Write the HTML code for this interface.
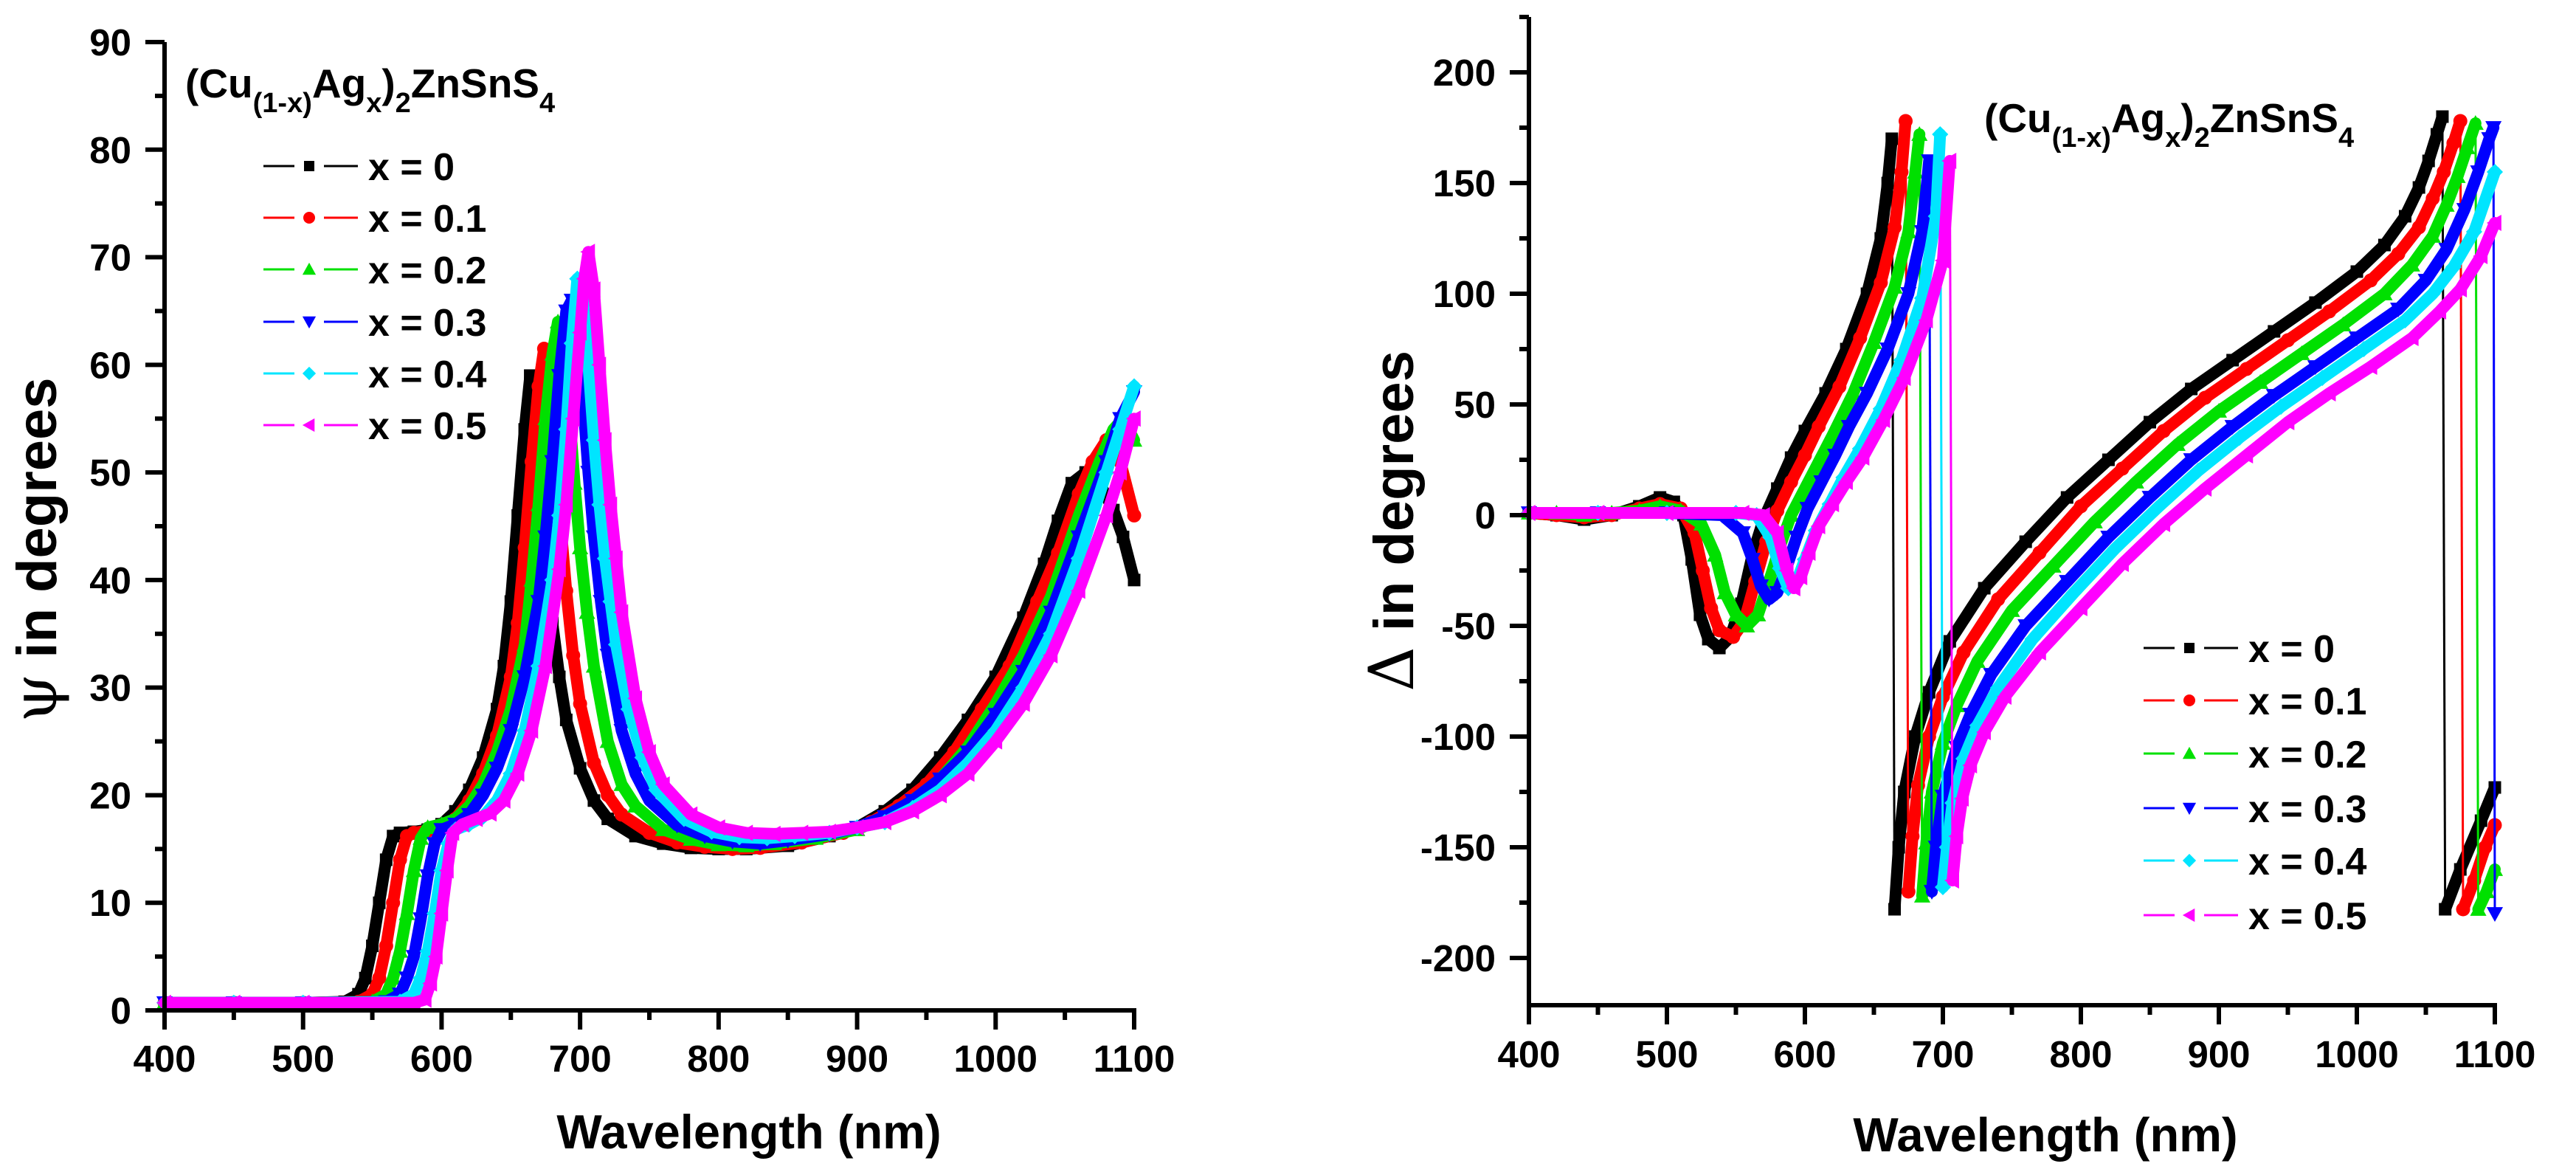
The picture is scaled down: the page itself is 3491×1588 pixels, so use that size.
<!DOCTYPE html>
<html><head><meta charset="utf-8"><style>
html,body{margin:0;padding:0;background:#fff;}
svg{display:block;font-family:"Liberation Sans",Arial,sans-serif;font-weight:bold;}
</style></head><body>
<svg id="chart" width="3491" height="1588" viewBox="0 0 3491 1588" xmlns="http://www.w3.org/2000/svg">
<g id="left"></g>
<g id="right"></g>
</svg>
<script>
// ---------- shared ----------
const seriesLabels = ["x = 0","x = 0.1","x = 0.2","x = 0.3","x = 0.4","x = 0.5"];
const seriesColors = ["#000000","#ff0000","#00e000","#0000ff","#00e5ff","#ff00ff"];
const seriesMarkers = ["square","circle","triUp","triDown","diamond","triLeft"];
const xTicks = [400,500,600,700,800,900,1000,1100];

// ---------- psi data ----------
const psiWl0 = [400,450,500,530,540,545,550,555,560,565,570,580,590,600,610,620,630,640,645,650,655,660,664,668,672,676,680,685,690,700,710,720,740,760,780,800,820,850,880,900,920,940,960,980,1000,1020,1035,1045,1055,1065,1075,1085,1092,1100];
const psiVal0 = [0.7,0.7,0.7,0.8,1.5,3,6,10,14,16.2,16.5,16.6,16.8,17.3,18.5,20.5,23.5,28,32,38,46,54,59,57,50,42,36,31,27,22.5,19.5,17.8,16.2,15.5,15.1,15,15,15.3,16.2,17,18.5,20.5,23.5,27,31,36.5,41.5,45.5,49,50,49,46.5,44,40];
const psiWl1 = [400,450,500,540,550,555,560,565,570,575,580,590,600,610,620,630,640,650,655,660,665,670,674,678,682,686,690,695,700,710,720,730,750,770,790,810,830,860,890,910,930,950,970,990,1010,1030,1045,1060,1070,1080,1090,1100];
const psiVal1 = [0.7,0.7,0.7,0.8,1.5,3,6,10,14,16.2,16.5,16.7,17,17.8,19.5,22,25.5,31,36,43,51,58,61.5,59,52,45,39,33,28.5,23,20,18.2,16.5,15.6,15.2,15,15.1,15.6,16.5,17.5,19,21,24,28,32,38,42.5,48,51,53,51,46];
const psiWl2 = [400,450,500,550,560,565,570,575,580,585,590,600,610,620,630,640,650,660,665,670,675,680,684,688,692,696,700,705,710,720,730,740,760,780,800,820,840,870,900,920,940,960,980,1000,1020,1040,1060,1075,1085,1092,1100];
const psiVal2 = [0.7,0.7,0.7,0.8,1.5,3,5.5,9,13,16,17,17.3,17.8,19,21,24,28,34,40,47,55,61,64,62,56,49,43,37,32,25,21,19,16.8,15.9,15.4,15.3,15.5,16,16.8,18,19.5,21.5,24.5,28.5,33,38.5,46,51,54,55,53];
const psiWl3 = [400,450,500,560,570,575,580,585,590,595,600,610,620,630,640,650,660,670,675,680,685,690,694,698,702,706,710,715,720,730,740,750,770,790,810,830,850,880,900,920,940,960,980,1000,1020,1040,1060,1080,1090,1100];
const psiVal3 = [0.7,0.7,0.7,0.8,1.5,3,5,8.5,12.5,15.5,16.8,17.3,18.2,20,22.5,26,31,38,44,51,59,65,66,63,57,50,44,38,33,26,22,19.5,17.2,16.2,15.7,15.5,15.8,16.4,17,18,19.5,21.5,24,27.5,31.5,37,44,51,55,57.5];
const psiWl4 = [400,450,500,570,580,585,590,595,600,605,610,620,630,640,650,660,670,680,685,690,694,698,702,706,710,714,718,722,726,735,745,755,775,795,815,835,855,880,900,920,940,960,980,1000,1020,1040,1060,1080,1090,1100];
const psiVal4 = [0.7,0.7,0.7,0.8,1.5,3,5.5,9,13,15.5,16.8,17.3,18,19.5,22,26,32,40,46,54,62,68,66,60,53,47,42,38,34,28,23.5,20.5,17.8,16.6,16.1,16,16.2,16.5,17,17.5,18.8,20.5,23,26,30,35,42,50,54,58];
const psiWl5 = [400,450,500,580,588,592,596,600,604,608,615,625,635,645,655,665,675,685,690,695,700,703,706,710,714,718,722,726,730,740,750,760,780,800,820,840,860,880,900,920,940,960,980,1000,1020,1040,1060,1080,1090,1100];
const psiVal5 = [0.7,0.7,0.7,0.7,1,2.5,5,9,13,16.5,17.3,17.8,18.3,19.5,22,26,32,41,47,55,63,68,70.5,67,60,53,47,42,37,29,24,21,18.2,17,16.5,16.4,16.5,16.6,17,17.5,18.5,20,22,25,28.5,33,39,46,50,55];
const psiTicks = [0,10,20,30,40,50,60,70,80,90];

// ---------- delta data ----------
const dWl0 = [400,420,440,460,480,495,505,512,518,524,530,538,546,554,562,570,580,590,600,615,630,645,655,660,663,665,668,672,680,690,705,730,760,790,820,850,880,910,940,970,1000,1020,1035,1045,1052,1058,1062,1064,1075,1090,1100];
const dVal0 = [1,0,-2,0,4,8,6,0,-20,-45,-56,-60,-55,-40,-18,-2,12,26,38,55,75,100,125,150,170,-178,-150,-125,-100,-80,-57,-33,-12,8,25,42,57,70,83,96,110,122,135,148,160,172,180,-178,-160,-138,-123];
const dWl1 = [400,420,440,460,480,495,510,520,526,532,538,548,556,564,572,580,590,600,610,625,640,655,665,670,673,675,678,682,690,700,715,740,770,800,830,860,890,920,950,980,1010,1030,1045,1055,1063,1070,1075,1077,1085,1093,1100];
const dVal1 = [1,0,-1,0,3,5,3,-8,-25,-42,-52,-55,-48,-30,-12,2,15,27,40,58,80,105,130,155,178,-170,-145,-122,-100,-82,-62,-38,-17,4,21,38,53,66,79,92,106,118,130,143,155,168,178,-178,-165,-150,-140];
const dWl2 = [400,420,440,460,480,495,510,525,535,542,550,558,566,574,582,590,600,610,620,635,650,665,675,680,683,685,688,692,700,710,725,750,780,810,840,870,900,930,960,990,1020,1040,1055,1065,1073,1080,1086,1088,1094,1100];
const dVal2 = [1,1,0,1,2,4,2,-4,-18,-35,-45,-50,-45,-30,-14,0,12,24,36,55,78,103,128,155,172,-172,-148,-125,-103,-86,-66,-43,-23,-3,15,32,47,60,73,86,100,113,126,140,153,166,177,-178,-170,-160];
const dWl3 = [400,450,500,540,555,562,568,574,580,586,594,602,612,622,632,645,660,675,685,690,692,695,700,710,720,735,760,790,820,850,880,910,940,970,1000,1030,1050,1065,1078,1088,1096,1099,1100];
const dVal3 = [1,1,1,0,-8,-20,-32,-38,-35,-25,-10,3,15,27,40,55,75,100,128,160,-170,-150,-127,-105,-90,-72,-50,-30,-10,8,25,40,54,67,80,93,106,120,138,155,170,175,-180];
const dWl4 = [400,450,500,550,565,575,582,588,594,600,608,618,628,640,655,670,685,695,698,700,703,707,715,725,740,765,795,825,855,885,915,945,975,1005,1035,1055,1070,1085,1100];
const dVal4 = [1,1,1,1,0,-10,-24,-33,-30,-20,-7,5,17,30,48,70,98,135,172,-168,-150,-130,-110,-95,-78,-56,-35,-15,3,20,35,49,62,75,88,100,112,128,155];
const dWl5 = [400,450,500,555,570,580,587,592,597,603,610,620,630,642,657,672,688,700,705,707,710,714,720,730,745,770,800,830,860,890,920,950,980,1010,1040,1060,1075,1090,1100];
const dVal5 = [1,1,1,1,0,-8,-25,-33,-28,-17,-5,5,15,26,43,62,88,115,160,-165,-145,-128,-113,-98,-82,-62,-42,-22,-4,12,27,42,55,67,80,92,102,117,132];
const deltaTicks = [-200,-150,-100,-50,0,50,100,150,200];

const NS = "http://www.w3.org/2000/svg";
function mk(tag, attrs, parent){ const e=document.createElementNS(NS,tag); for(const k in attrs) e.setAttribute(k,attrs[k]); if(parent) parent.appendChild(e); return e; }

function marker(parent, type, cx, cy, s, color){
  let e;
  if(type==="square") e=mk("rect",{x:cx-s/2,y:cy-s/2,width:s,height:s,fill:color},parent);
  else if(type==="circle") e=mk("circle",{cx:cx,cy:cy,r:s/2+1,fill:color},parent);
  else {
    let p;
    const h=s*0.65;
    if(type==="triUp") p=[[cx,cy-h],[cx-h,cy+h*0.8],[cx+h,cy+h*0.8]];
    else if(type==="triDown") p=[[cx,cy+h],[cx-h,cy-h*0.8],[cx+h,cy-h*0.8]];
    else if(type==="triLeft") p=[[cx-h,cy],[cx+h*0.8,cy-h],[cx+h*0.8,cy+h]];
    else p=[[cx,cy-h],[cx+h,cy],[cx,cy+h],[cx-h,cy]];
    e=mk("polygon",{points:p.map(q=>q.join(",")).join(" "),fill:color},parent);
  }
  
  
  return e;
}

function drawChart(g, cfg){
  const X = v => cfg.x0 + (v-400)*(cfg.x1-cfg.x0)/700;
  const Y = v => cfg.yZero - v*cfg.ppu;
  cfg.series.forEach((s,i)=>{
    const sg = mk("g",{},g);
    
    
    let seg=[[X(s.wl[0]),Y(s.v[0])]];
    const segs=[]; const jumps=[];
    for(let k=1;k<s.wl.length;k++){
      const p=[X(s.wl[k]),Y(s.v[k])];
      if(Math.abs(s.v[k]-s.v[k-1])>150){ segs.push(seg); jumps.push([seg[seg.length-1],p]); seg=[p]; }
      else seg.push(p);
    }
    segs.push(seg);
    segs.forEach(sp=>{
      const pl=mk("polyline",{points:sp.map(q=>q.join(",")).join(" "),fill:"none",stroke:seriesColors[i],"stroke-width":16,"stroke-linejoin":"round","stroke-linecap":"round"},sg);
      
      
    });
    jumps.forEach(j=>{
      const ln=mk("line",{x1:j[0][0],y1:j[0][1],x2:j[1][0],y2:j[1][1],stroke:seriesColors[i],"stroke-width":3},sg);
      
      
    });
    for(let k=0;k<s.wl.length;k++) marker(sg, seriesMarkers[i], X(s.wl[k]), Y(s.v[k]), 17, seriesColors[i]);
  });
  const ax = mk("g",{stroke:"#000","stroke-width":6,fill:"none"},g);
  
  
  mk("line",{x1:cfg.x0,y1:cfg.yTop,x2:cfg.x0,y2:cfg.yBot+3},ax);
  mk("line",{x1:cfg.x0-3,y1:cfg.yBot,x2:cfg.x1+3,y2:cfg.yBot},ax);
  xTicks.forEach(t=>{
    mk("line",{x1:X(t),y1:cfg.yBot,x2:X(t),y2:cfg.yBot+26},ax);
    if(t+50<=1100) mk("line",{x1:X(t+50),y1:cfg.yBot,x2:X(t+50),y2:cfg.yBot+13},ax);
    const tx=mk("text",{x:X(t),y:cfg.xLabBase,"text-anchor":"middle","font-size":51,fill:"#000"},g);
    tx.textContent=t;
    
    
  });
  cfg.yTicks.forEach((t,idx)=>{
    mk("line",{x1:cfg.x0,y1:Y(t),x2:cfg.x0-26,y2:Y(t)},ax);
    const m=t+cfg.yStep/2;
    if(Y(m)>=cfg.yTop) mk("line",{x1:cfg.x0,y1:Y(m),x2:cfg.x0-13,y2:Y(m)},ax);
    if(idx===0){ const m2=t-cfg.yStep/2; if(Y(m2)<=cfg.yBot) mk("line",{x1:cfg.x0,y1:Y(m2),x2:cfg.x0-13,y2:Y(m2)},ax); }
    const ty=mk("text",{x:cfg.x0-45,y:Y(t)+18,"text-anchor":"end","font-size":51,fill:"#000"},g);
    ty.textContent=t;
    
    
  });
  const xt=mk("text",{x:cfg.xTitleX,y:cfg.xTitleY,"text-anchor":"middle","font-size":65,fill:"#000"},g);
  xt.textContent="Wavelength (nm)";
  
  
  const yt=mk("text",{x:0,y:0,"text-anchor":"middle","font-size":76,fill:"#000",transform:`translate(${cfg.yTitleX},${cfg.yTitleY}) rotate(-90)`},g);
  
  
  const sym=mk("tspan",{"font-family":"DejaVu Serif, Liberation Serif, serif","font-weight":"normal","font-size":84},yt);
  sym.textContent=cfg.sym;
  const rest=mk("tspan",{},yt); rest.textContent=" in degrees";
  const ct=mk("text",{x:cfg.tX,y:cfg.tY,"font-size":55,fill:"#000"},g);
  
  
  const parts=[["(Cu",0],["(1-x)",1],["Ag",0],["x",1],[")",0],["2",1],["ZnSnS",0],["4",1]];
  parts.forEach(p=>{ const ts=mk("tspan",p[1]?{"font-size":38}:{},ct); ts.textContent=p[0]; });
  const tsp=ct.querySelectorAll("tspan"); let sub=false;
  tsp.forEach((t,i)=>{ const isSub=parts[i][1]; if(isSub&&!sub){t.setAttribute("dy",20);sub=true;} else if(!isSub&&sub){t.setAttribute("dy",-20);sub=false;} });
  const lg=mk("g",{},g);
  
  
  seriesLabels.forEach((lab,i)=>{
    const y=cfg.legY[i];
    const e=mk("g",{},lg);
    
    
    mk("line",{x1:cfg.legX,y1:y,x2:cfg.legX+42,y2:y,stroke:seriesColors[i],"stroke-width":3},e);
    mk("line",{x1:cfg.legX+82,y1:y,x2:cfg.legX+128,y2:y,stroke:seriesColors[i],"stroke-width":3},e);
    marker(e, seriesMarkers[i], cfg.legX+62, y, 14, seriesColors[i]);
    const t=mk("text",{x:cfg.legX+142,y:y+19,"font-size":52,fill:"#000"},e);
    t.textContent=lab;
  });
}

drawChart(document.getElementById("left"),{
  x0:223,x1:1537,yZero:1369,ppu:(1369-57)/90,yTop:57,yBot:1369,yTicks:psiTicks,yStep:10,
  xLabBase:1452,xTitleX:1015,xTitleY:1556,yTitleX:76,yTitleY:745,sym:"\u03C8",
  tX:251,tY:132,legX:357,legY:[225,295,365,436,506,576],
  series:[{wl:psiWl0,v:psiVal0},{wl:psiWl1,v:psiVal1},{wl:psiWl2,v:psiVal2},{wl:psiWl3,v:psiVal3},{wl:psiWl4,v:psiVal4},{wl:psiWl5,v:psiVal5}]
});
drawChart(document.getElementById("right"),{
  x0:2072,x1:3381,yZero:698,ppu:3,yTop:23,yBot:1362,yTicks:deltaTicks,yStep:50,
  xLabBase:1446,xTitleX:2772,xTitleY:1560,yTitleX:1915,yTitleY:706,sym:"\u0394",
  tX:2689,tY:179,legX:2905,legY:[878,949,1021,1095,1166,1240],
  series:[{wl:dWl0,v:dVal0},{wl:dWl1,v:dVal1},{wl:dWl2,v:dVal2},{wl:dWl3,v:dVal3},{wl:dWl4,v:dVal4},{wl:dWl5,v:dVal5}]
});
</script>
</body></html>
